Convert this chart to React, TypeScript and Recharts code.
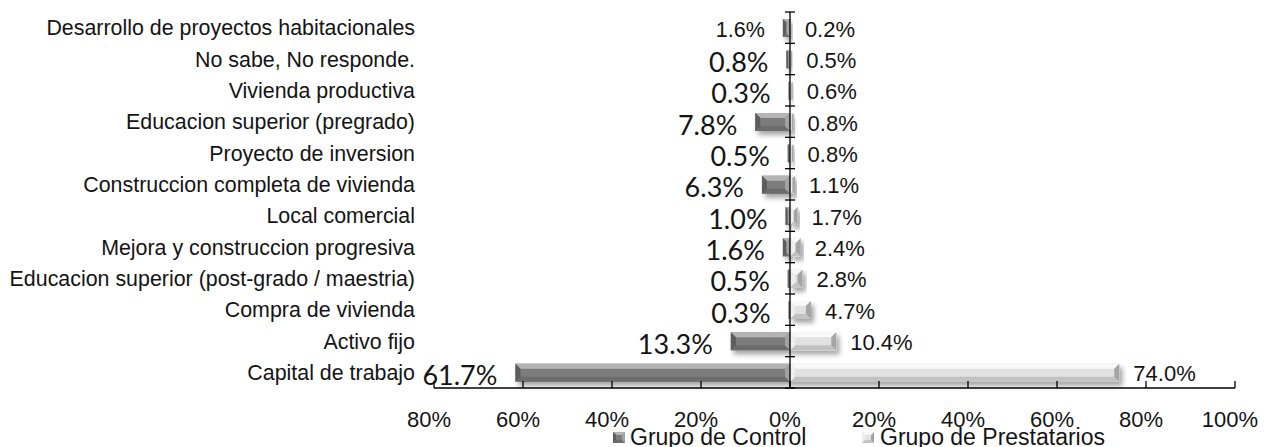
import React from "react";
import {
  Bar,
  BarChart,
  LabelList,
  ReferenceLine,
  XAxis,
  YAxis,
} from "recharts";

const categories = [
  "Desarrollo de proyectos habitacionales",
  "No sabe, No responde.",
  "Vivienda productiva",
  "Educacion superior (pregrado)",
  "Proyecto de inversion",
  "Construccion completa de vivienda",
  "Local comercial",
  "Mejora y construccion progresiva",
  "Educacion superior (post-grado / maestria)",
  "Compra de vivienda",
  "Activo fijo",
  "Capital de trabajo",
];

const controlValues = [1.6, 0.8, 0.3, 7.8, 0.5, 6.3, 1.0, 1.6, 0.5, 0.3, 13.3, 61.7];
const prestatariosValues = [0.2, 0.5, 0.6, 0.8, 0.8, 1.1, 1.7, 2.4, 2.8, 4.7, 10.4, 74.0];

const seriesNames = ["Grupo de Control", "Grupo de Prestatarios"];
const xTicks = [-80, -60, -40, -20, 0, 20, 40, 60, 80, 100];

const data = categories.map((name, i) => ({
  name,
  control: -controlValues[i],
  prestatarios: prestatariosValues[i],
}));

const ARIAL = "'Liberation Sans', Arial, sans-serif";
const TEXT = "#141414";

type Palette = { top: string; bottom: string; left: string; right: string; face: string };

const controlPal: Palette = {
  top: "#b4b4b4",
  bottom: "#6c6c6c",
  left: "#5c5c5c",
  right: "#a3a3a3",
  face: "#7c7c7c",
};
const prestPal: Palette = {
  top: "#f8f8f8",
  bottom: "#c2c2c2",
  left: "#eeeeee",
  right: "#a4a4a4",
  face: "#e1e1e1",
};

function bevel(x: number, y: number, w: number, h: number, pal: Palette, bev = 5) {
  const b = Math.min(bev, w / 2, h / 2);
  const r = x + w;
  const btm = y + h;
  return (
    <>
      <rect x={x} y={y} width={w} height={h} fill={pal.face} />
      <polygon points={`${x},${y} ${r},${y} ${r - b},${y + b} ${x + b},${y + b}`} fill={pal.top} />
      <polygon points={`${x},${btm} ${r},${btm} ${r - b},${btm - b} ${x + b},${btm - b}`} fill={pal.bottom} />
      <polygon points={`${x},${y} ${x + b},${y + b} ${x + b},${btm - b} ${x},${btm}`} fill={pal.left} />
      <polygon points={`${r},${y} ${r - b},${y + b} ${r - b},${btm - b} ${r},${btm}`} fill={pal.right} />
    </>
  );
}

const makeShape = (pal: Palette) => (props: any) => {
  const { x, y, width, height } = props;
  const x0 = Math.min(x, x + width);
  const w = Math.abs(width);
  if (!w || !height) return <g />;
  return <g filter="url(#barShadow)">{bevel(x0, y, w, height, pal)}</g>;
};

const ControlShape = makeShape(controlPal);
const PrestShape = makeShape(prestPal);

function box(props: any) {
  const vb = props.viewBox ?? props;
  const x0 = Math.min(vb.x, vb.x + vb.width);
  const x1 = Math.max(vb.x, vb.x + vb.width);
  return { x0, x1, cy: vb.y + vb.height / 2 };
}

const ControlLabel = (props: any) => {
  const { x0, cy } = box(props);
  const i = props.index;
  const small = i === 0;
  return (
    <text
      x={x0 - 18}
      y={cy + 2}
      textAnchor="end"
      dominantBaseline="central"
      fontFamily={small ? ARIAL : "Lato, 'Open Sans', sans-serif"}
      fontSize={small ? 21.5 : 27}
      fill={TEXT}
    >
      {controlValues[i].toFixed(1)}%
    </text>
  );
};

const PrestLabel = (props: any) => {
  const { x1, cy } = box(props);
  const i = props.index;
  return (
    <text
      x={x1 + 14}
      y={cy + 1}
      dominantBaseline="central"
      fontFamily={ARIAL}
      fontSize={22}
      fill={TEXT}
    >
      {prestatariosValues[i].toFixed(1)}%
    </text>
  );
};

const ZeroAxis = (props: any) => {
  const { x1, y1, y2 } = props;
  const top = Math.min(y1, y2);
  const bottom = Math.max(y1, y2);
  const step = (bottom - top) / categories.length;
  const marks = Array.from({ length: categories.length + 1 }, (_, i) => top + i * step);
  return (
    <g>
      <line x1={x1} x2={x1} y1={top} y2={bottom} stroke="#000" strokeWidth={1.3} />
      {marks.map((m) => (
        <line key={m} x1={x1 - 5} x2={x1 + 5} y1={m} y2={m} stroke="#000" strokeWidth={1.3} />
      ))}
    </g>
  );
};

function LegendOverlay() {
  const items = [
    { name: seriesNames[0], pal: controlPal, ix: 613, tx: 630 },
    { name: seriesNames[1], pal: prestPal, ix: 862, tx: 880 },
  ];
  return (
    <svg
      width={1272}
      height={447}
      style={{ position: "absolute", left: 0, top: 0, pointerEvents: "none" }}
    >
      {items.map((it) => (
        <g key={it.name}>
          {bevel(it.ix, 432, 12, 11, it.pal, 3)}
          <text x={it.tx} y={445} fontFamily={ARIAL} fontSize={23} fill={TEXT}>
            {it.name}
          </text>
        </g>
      ))}
    </svg>
  );
}

export default function App() {
  return (
    <div
      style={{
        position: "absolute",
        left: 0,
        top: 0,
        width: 1272,
        height: 447,
        background: "#fff",
        fontFamily: ARIAL,
        overflow: "hidden",
      }}
    >
      <BarChart
        width={1272}
        height={447}
        data={data}
        layout="vertical"
        stackOffset="sign"
        barSize={18}
        margin={{ top: 12, right: 37, bottom: 29, left: 0 }}
      >
        <defs>
          <filter id="barShadow" x="-30%" y="-60%" width="160%" height="220%">
            <feDropShadow dx="3" dy="4" stdDeviation="2.5" floodColor="#000" floodOpacity="0.35" />
          </filter>
        </defs>
        <XAxis
          type="number"
          domain={[-80, 100]}
          ticks={xTicks}
          interval={0}
          tickFormatter={(v: number) => `${Math.abs(v)}%`}
          axisLine={{ stroke: "#000", strokeWidth: 1.3 }}
          tickLine={{ stroke: "#000", strokeWidth: 1.3 }}
          tickSize={-7}
          tickMargin={30}
          tick={{ fontSize: 22, fill: TEXT, dx: -5 }}
        />
        <YAxis
          type="category"
          dataKey="name"
          width={434}
          interval={0}
          axisLine={false}
          tickLine={false}
          tickMargin={13}
          tick={{ fontSize: 21.4, fill: TEXT }}
        />
        <Bar dataKey="control" stackId="a" shape={ControlShape} isAnimationActive={false}>
          <LabelList dataKey="control" content={ControlLabel} />
        </Bar>
        <Bar dataKey="prestatarios" stackId="a" shape={PrestShape} isAnimationActive={false}>
          <LabelList dataKey="prestatarios" content={PrestLabel} />
        </Bar>
        <ReferenceLine x={0} shape={ZeroAxis} />
      </BarChart>
      <LegendOverlay />
    </div>
  );
}
